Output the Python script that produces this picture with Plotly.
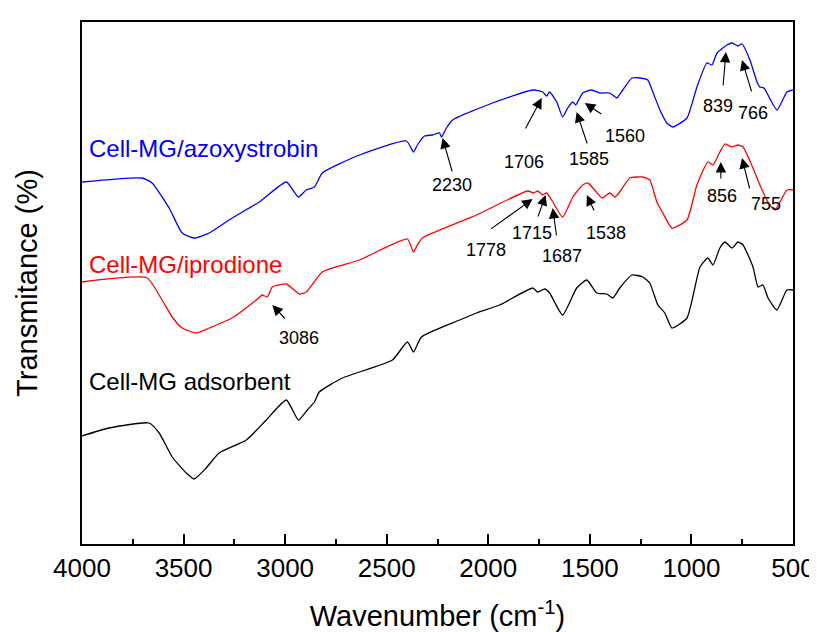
import plotly.graph_objects as go

# ---- data (wavenumber in cm-1, transmittance in arbitrary offset units) ----
wn_black = [4000, 3867, 3670, 3620, 3556, 3487, 3448, 3389, 3325, 3191, 3093, 2994, 2935, 2891,
            2856, 2832, 2718, 2472, 2398, 2368, 2329, 2141, 2058, 1944, 1781, 1757, 1722, 1698,
            1634, 1565, 1515, 1466, 1417, 1387, 1353, 1293, 1239, 1205, 1165, 1131, 1096, 1022,
            958, 919, 894, 860, 835, 800, 771, 746, 697, 672, 648, 623, 579, 530, 500]
t_black = [102, 110, 115, 105, 81, 65, 59, 70, 85, 98, 118, 138, 118, 128,
           136, 146, 160, 178, 196, 186, 201, 218, 225, 233, 250, 246, 249, 245,
           223, 250, 258, 245, 244, 240, 250, 263, 261, 255, 233, 225, 210, 220,
           271, 280, 273, 290, 296, 290, 296, 293, 271, 251, 253, 240, 228, 248, 248]

wn_red = [4000, 3680, 3606, 3556, 3507, 3438, 3374, 3261, 3142, 3113, 3088, 3063, 2994, 2930,
          2896, 2817, 2634, 2398, 2368, 2349, 2324, 2058, 1806, 1777, 1757, 1732, 1713, 1688,
          1634, 1584, 1535, 1510, 1476, 1441, 1402, 1377, 1353, 1303, 1239, 1205, 1170, 1141,
          1096, 1022, 973, 919, 894, 860, 835, 800, 771, 746, 697, 663, 623, 589, 530, 500]
t_red = [256, 260, 238, 221, 210, 205, 210, 220, 238, 243, 241, 251, 254, 244,
         246, 266, 278, 299, 286, 293, 300, 323, 347, 345, 347, 343, 345, 338,
         321, 341, 353, 355, 348, 340, 345, 341, 346, 360, 361, 358, 336, 325,
         310, 318, 353, 376, 373, 386, 394, 391, 393, 391, 370, 353, 336, 328, 348, 348]

wn_blue = [4000, 3704, 3655, 3571, 3507, 3448, 3374, 3261, 3127, 2994, 2935, 2896, 2856, 2817,
           2634, 2403, 2368, 2349, 2314, 2275, 2240, 2230, 2206, 2176, 1979, 1781, 1732, 1713,
           1698, 1663, 1634, 1609, 1584, 1570, 1535, 1491, 1451, 1402, 1367, 1338, 1293, 1254,
           1215, 1190, 1155, 1121, 1091, 1022, 973, 924, 899, 874, 825, 800, 771, 751, 712,
           677, 663, 643, 579, 530, 500]
t_blue = [356, 360, 355, 330, 305, 300, 305, 320, 336, 356, 341, 348, 351, 365,
          383, 397, 386, 393, 402, 403, 405, 401, 410, 418, 435, 448, 446, 442,
          446, 436, 421, 430, 436, 433, 445, 448, 445, 445, 440, 448, 460, 460,
          458, 446, 428, 415, 411, 420, 451, 475, 473, 485, 493, 495, 492, 494, 478,
          456, 451, 450, 428, 446, 448]

series_names = ["Cell-MG adsorbent", "Cell-MG/iprodione", "Cell-MG/azoxystrobin"]
series_colors = ["#000000", "#ff0000", "#0000ff"]
label_level = [157, 274, 390]

# peak labels: text, arrow tip (wn, T), tail offset (px), text position (wn, T)
peak_text = ["2230", "1706", "1585", "1560", "839", "766",
             "1778", "1715", "1687", "1538", "856", "755", "3086"]
tip_wn = [2225, 1737, 1565, 1525, 830, 751, 1782, 1718, 1683, 1515, 855, 751, 3063]
tip_t = [400, 440, 426, 435, 486, 478, 339, 343, 330, 343, 376, 380, 233]
tail_dx = [10, -17, 11, 18, -3, 10, -43, -8, 4, 8, 0, 8, 14]
tail_dy = [35, 32, 33, 12, 35, 33, 31, 23, 29, 17, 18, 32, 15]
text_wn = [2181, 1826, 1506, 1328, 870, 697, 2013, 1787, 1639, 1422, 850, 633, 2930]
text_t = [353, 376, 379, 402, 432, 425, 288, 305, 282, 305, 342, 334, 200]

FONT = "Arial, Liberation Sans, sans-serif"

fig = go.Figure()
for wn, t, name, col in zip([wn_black, wn_red, wn_blue], [t_black, t_red, t_blue],
                            series_names, series_colors):
    fig.add_trace(go.Scatter(x=wn, y=t, mode="lines", name=name,
                             line=dict(color=col, width=1.3, shape="spline", smoothing=0.5)))

for name, col, lev in zip(series_names, series_colors, label_level):
    fig.add_annotation(x=3975, y=lev, text=name, showarrow=False, xanchor="left",
                       yanchor="middle", font=dict(family=FONT, size=24, color=col))

for txt, tw, tt, dx, dy, xw, xt in zip(peak_text, tip_wn, tip_t, tail_dx, tail_dy, text_wn, text_t):
    fig.add_annotation(x=tw, y=tt, ax=dx, ay=dy, text="", showarrow=True,
                       arrowhead=2, arrowsize=1.9, arrowwidth=1.1, arrowcolor="black")
    fig.add_annotation(x=xw, y=xt, text=txt, showarrow=False,
                       font=dict(family=FONT, size=18, color="black"))

fig.update_layout(
    width=809, height=624,
    margin=dict(l=74, r=24, t=14, b=88),
    paper_bgcolor="white", plot_bgcolor="white",
    showlegend=False,
    font=dict(family=FONT, color="black"),
)
fig.update_xaxes(
    range=[4000, 500], tickvals=[4000, 3500, 3000, 2500, 2000, 1500, 1000, 500],
    ticks="inside", ticklen=10, tickwidth=1.5, tickcolor="black",
    minor=dict(ticks="inside", ticklen=5, tickwidth=1.5, tickcolor="black", dtick=250, tick0=500),
    showline=True, linecolor="black", linewidth=1.5, mirror=True,
    showgrid=False, zeroline=False, automargin=False,
    tickfont=dict(family=FONT, size=26),
    title=dict(text="Wavenumber (cm<sup>-1</sup>)", font=dict(family=FONT, size=29), standoff=26),
)
fig.update_yaxes(
    range=[-6, 516], showticklabels=False, ticks="",
    showline=True, linecolor="black", linewidth=1.5, mirror=True,
    showgrid=False, zeroline=False, automargin=False,
    title=dict(text="Transmitance (%)", font=dict(family=FONT, size=29), standoff=34),
)
fig.write_html("out.html")
